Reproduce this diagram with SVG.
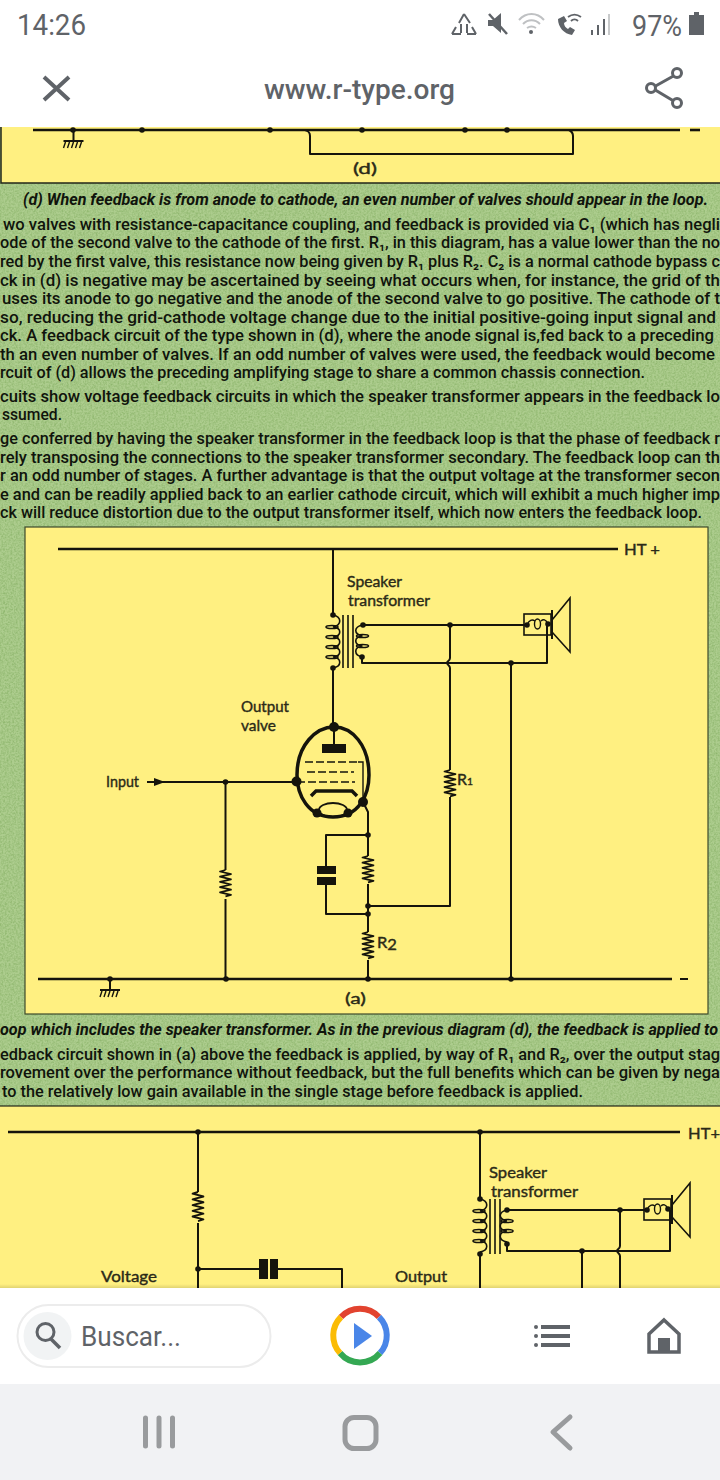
<svg xmlns="http://www.w3.org/2000/svg" width="720" height="1480" viewBox="0 0 720 1480">
<style>
.body{font-family:Roboto,"Liberation Sans",sans-serif;font-size:15px;font-weight:500;fill:#10140c}
.cap{font-style:italic;font-weight:700}
.lab{font-family:Lato,"Liberation Sans",sans-serif;font-size:15.500px;font-weight:400;fill:#2b2a18;stroke:#2b2a18;stroke-width:.4}
.ui{font-family:Roboto,"Liberation Sans",sans-serif;fill:#5f6368}
.w{fill:none;stroke:#15140c;stroke-width:2;stroke-linejoin:round}
.r{fill:none;stroke:#15140c;stroke-width:1.700;stroke-linejoin:round}
.bus{fill:none;stroke:#15140c;stroke-width:2.600}
.thin{fill:none;stroke:#15140c;stroke-width:1.400}
.coil{fill:none;stroke:#15140c;stroke-width:1.600}
.fill{fill:#15140c}
.ic{fill:none;stroke:#5f6368;stroke-width:3}
.nav{fill:none;stroke:#999b9d;stroke-width:5;stroke-linecap:round;stroke-linejoin:round}
</style>
<defs>
<filter id="grain" x="0" y="0" width="100%" height="100%" color-interpolation-filters="sRGB"><feTurbulence type="fractalNoise" baseFrequency="0.55" numOctaves="2" seed="4"/><feColorMatrix type="matrix" values="0 0 0 0 0.54  0 0 0 0 0.70  0 0 0 0 0.41  1.6 0 0 0 -0.55"/></filter>
<linearGradient id="edge" x1="0" y1="0" x2="0" y2="1"><stop offset="0" stop-color="#000" stop-opacity="0"/><stop offset="1" stop-color="#000" stop-opacity=".12"/></linearGradient>
<circle id="dot" r="2.800" class="fill"/>
<path id="res" class="r" d="M0 0l-5.500 1.500 11 2.600-11 2.600 11 2.600-11 2.600 11 2.600-11 2.600 11 2.600-11 2.600 11 2.600-5.500 1.500"/>
<g id="pri"><path class="coil" d="M0 0c9 2 9 10 0 12c9 1 9 9 0 10c9 1 9 9 0 10c9 1 9 9 0 10c9 1 9 9 0 11"/><ellipse cx="-1" cy="12" rx="6" ry="1.500" class="coil"/><ellipse cx="-1" cy="22" rx="6" ry="1.500" class="coil"/><ellipse cx="-1" cy="32" rx="6" ry="1.500" class="coil"/><ellipse cx="-1" cy="42" rx="6" ry="1.500" class="coil"/></g>
<g id="sec"><path class="coil" d="M0 0c-9 2-9 9 0 11c-9 1-9 9 0 10c-9 1-9 9 0 11"/><ellipse cx="0" cy="11" rx="6" ry="1.500" class="coil"/><ellipse cx="0" cy="21" rx="6" ry="1.500" class="coil"/></g>
<g id="gnd"><path class="w" d="M0 0v11M-10 11h20"/><path class="thin" d="M-8 12l-2 6M-4 12l-2 6M0 12l-2 6M4 12l-2 6M8 12l-2 6" stroke-width="1"/></g>
<g id="spk"><rect x="0" y="0" width="27" height="21" class="coil"/><path class="thin" d="M3 11c2-5 5-6 8-4M24 10c-2-5-5-5-7-3"/><ellipse cx="13.500" cy="10" rx="3" ry="5" class="thin"/><path class="w" d="M28-4v29"/><path class="coil" d="M28 6L46-16V38L28 18"/><circle cx="3" cy="11" r="2.800" class="fill"/><circle cx="24" cy="10" r="2.800" class="fill"/></g>
</defs>

<g id="background">
<rect width="720" height="1480" fill="#adcd8e"/>
<rect y="183" width="720" height="924" filter="url(#grain)"/>
</g>

<g id="panel-d">
<rect x="1" y="120" width="730" height="63" fill="#fff081" stroke="#22261a" stroke-width="1.500"/>
<path class="bus" d="M33 130H680"/>
<path class="w" d="M305 130c3 1 5 2 5 6V154H573V136c0-4-2-5-4-6"/>
<path class="bus" d="M690 130h10" stroke-width="2"/>
<use href="#gnd" x="73.500" y="130"/>
<use href="#dot" x="73" y="130"/><use href="#dot" x="142" y="130"/><use href="#dot" x="270" y="130"/><use href="#dot" x="362" y="130"/><use href="#dot" x="465" y="130"/><use href="#dot" x="507" y="130"/>
<text class="lab" x="353" y="174" textLength="24" lengthAdjust="spacingAndGlyphs">(d)</text>
</g>

<g id="text-upper">
<text class="body cap" transform="translate(23 205) scale(1 1.100)" textLength="685" lengthAdjust="spacingAndGlyphs">(d) When feedback is from anode to cathode, an even number of valves should appear in the loop.</text>
<text class="body" transform="translate(3 230) scale(1 1.100)" textLength="717" lengthAdjust="spacingAndGlyphs">wo valves with resistance-capacitance coupling, and feedback is provided via C₁ (which has negli</text>
<text class="body" transform="translate(0 248) scale(1 1.100)" textLength="720" lengthAdjust="spacingAndGlyphs">ode of the second valve to the cathode of the first. R₁, in this diagram, has a value lower than the no</text>
<text class="body" transform="translate(0 267) scale(1 1.100)" textLength="720" lengthAdjust="spacingAndGlyphs">red by the first valve, this resistance now being given by R₁ plus R₂. C₂ is a normal cathode bypass c</text>
<text class="body" transform="translate(0 286) scale(1 1.100)" textLength="720" lengthAdjust="spacingAndGlyphs">ck in (d) is negative may be ascertained by seeing what occurs when, for instance, the grid of th</text>
<text class="body" transform="translate(2 304) scale(1 1.100)" textLength="718" lengthAdjust="spacingAndGlyphs">uses its anode to go negative and the anode of the second valve to go positive. The cathode of t</text>
<text class="body" transform="translate(0 323) scale(1 1.100)" textLength="716" lengthAdjust="spacingAndGlyphs">so, reducing the grid-cathode voltage change due to the initial positive-going input signal and</text>
<text class="body" transform="translate(0 341) scale(1 1.100)" textLength="714" lengthAdjust="spacingAndGlyphs">ck. A feedback circuit of the type shown in (d), where the anode signal is,fed back to a preceding</text>
<text class="body" transform="translate(0 360) scale(1 1.100)" textLength="715" lengthAdjust="spacingAndGlyphs">th an even number of valves. If an odd number of valves were used, the feedback would become</text>
<text class="body" transform="translate(0 378) scale(1 1.100)" textLength="645" lengthAdjust="spacingAndGlyphs">rcuit of (d) allows the preceding amplifying stage to share a common chassis connection.</text>
<text class="body" transform="translate(0 402) scale(1 1.100)" textLength="720" lengthAdjust="spacingAndGlyphs">cuits show voltage feedback circuits in which the speaker transformer appears in the feedback lo</text>
<text class="body" transform="translate(2 420) scale(1 1.100)" textLength="60" lengthAdjust="spacingAndGlyphs">ssumed.</text>
<text class="body" transform="translate(0 444) scale(1 1.100)" textLength="720" lengthAdjust="spacingAndGlyphs">ge conferred by having the speaker transformer in the feedback loop is that the phase of feedback r</text>
<text class="body" transform="translate(0 463) scale(1 1.100)" textLength="720" lengthAdjust="spacingAndGlyphs">rely transposing the connections to the speaker transformer secondary. The feedback loop can th</text>
<text class="body" transform="translate(0 481) scale(1 1.100)" textLength="720" lengthAdjust="spacingAndGlyphs">r an odd number of stages. A further advantage is that the output voltage at the transformer secon</text>
<text class="body" transform="translate(0 500) scale(1 1.100)" textLength="720" lengthAdjust="spacingAndGlyphs">e and can be readily applied back to an earlier cathode circuit, which will exhibit a much higher imp</text>
<text class="body" transform="translate(0 518) scale(1 1.100)" textLength="702" lengthAdjust="spacingAndGlyphs">ck will reduce distortion due to the output transformer itself, which now enters the feedback loop.</text>
</g>

<g id="panel-a">
<rect x="25" y="527" width="683" height="487" fill="#fff081" stroke="#3c4a2c" stroke-width="1.200"/>
<g id="a-connectors">
<path class="bus" d="M58 549H618M38 979H672"/>
<path class="w" d="M333 549V615M333 668V727"/>
<path class="w" d="M363 625H527M450 625V658c0 3-3 3-3 5 0 2 3 2 3 5V770M450 797V906H368"/>
<path class="w" d="M362 657V663H547V624M511 663V979"/>
<path class="w" d="M147 782H297"/>
<path class="w" d="M225.500 782V870M225.500 899V979"/>
<path class="w" d="M363 802L368 812V856M368 884V932M368 960V979"/>
<path class="w" d="M368 835H326V866M326 885V914H368"/>
</g>
<g id="a-transformer"><use href="#pri" x="333" y="615"/><path class="coil" d="M343 615v53M348 615v53M353 615v53"/><use href="#sec" x="362.500" y="625"/><use href="#dot" x="333" y="615"/><use href="#dot" x="333" y="668"/><use href="#dot" x="363" y="625"/><use href="#dot" x="362" y="657"/></g>
<g id="a-speaker"><use href="#spk" x="524" y="614"/></g>
<g id="a-valve">
<path d="M334 727C352 727 369 745 369 775C369 795 359 817 333 817C308 817 297 795 297 775C297 745 316 727 334 727Z" fill="none" stroke="#15140c" stroke-width="3.500"/>
<path class="w" d="M334 727V745"/>
<rect x="322" y="744" width="24" height="9" class="fill"/>
<path class="thin" d="M305 762h53" stroke-dasharray="8 3" stroke-width="1.800"/>
<path class="thin" d="M358 762h5V800"/>
<path class="thin" d="M307 772h47" stroke-dasharray="8 3" stroke-width="1.800"/>
<path class="thin" d="M297 782h58" stroke-dasharray="8 3" stroke-width="1.800"/>
<path d="M311 796L316 791H352L357 796" fill="none" stroke="#15140c" stroke-width="3.500"/>
<ellipse cx="333" cy="810" rx="14" ry="7" fill="none" stroke="#15140c" stroke-width="1.800"/>
<circle cx="334" cy="727" r="5" class="fill"/><circle cx="296.500" cy="781.500" r="5" class="fill"/><circle cx="363" cy="802" r="5" class="fill"/><circle cx="317" cy="813" r="4.500" class="fill"/><circle cx="348" cy="813" r="4.500" class="fill"/>
</g>
<path id="a-input-arrow" class="fill" d="M154 778L165 782L154 786Z"/>
<g id="a-r1"><use href="#res" x="450" y="770"/><text class="lab" x="457" y="785" textLength="16" lengthAdjust="spacingAndGlyphs">R<tspan font-size="10">1</tspan></text></g>
<g id="a-r2"><use href="#res" x="368" y="932"/><text class="lab" x="377" y="948" textLength="20" lengthAdjust="spacingAndGlyphs">R<tspan dy="2">2</tspan></text></g>
<g id="a-r3"><use href="#res" x="368" y="856"/></g>
<g id="a-r4"><use href="#res" x="225.500" y="870"/></g>
<g id="a-c"><rect x="317" y="866" width="19" height="8" class="fill"/><rect x="317" y="877" width="19" height="8" class="fill"/></g>
<g id="a-ground"><use href="#gnd" x="110" y="979"/></g>
<g id="a-dots"><use href="#dot" x="450" y="625"/><use href="#dot" x="511" y="663"/><use href="#dot" x="225.500" y="782"/><use href="#dot" x="368" y="835"/><use href="#dot" x="368" y="906"/><use href="#dot" x="368" y="914"/><use href="#dot" x="110" y="979"/><use href="#dot" x="226" y="979"/><use href="#dot" x="368" y="979"/><use href="#dot" x="511" y="979"/></g>
<g id="a-labels">
<text class="lab" x="347" y="587" textLength="55" lengthAdjust="spacingAndGlyphs">Speaker</text>
<text class="lab" x="348" y="606" textLength="82" lengthAdjust="spacingAndGlyphs">transformer</text>
<text class="lab" x="241" y="712" textLength="48" lengthAdjust="spacingAndGlyphs">Output</text>
<text class="lab" x="241" y="731" textLength="35" lengthAdjust="spacingAndGlyphs">valve</text>
<text class="lab" x="106" y="787" textLength="33" lengthAdjust="spacingAndGlyphs">Input</text>
<text class="lab" x="624" y="555" textLength="36" lengthAdjust="spacingAndGlyphs">HT +</text>
<text class="lab" x="345" y="1004" textLength="21" lengthAdjust="spacingAndGlyphs">(a)</text>
<path class="w" d="M680 979h8"/>
</g>
</g>

<g id="text-lower">
<text class="body cap" transform="translate(0 1035) scale(1 1.100)" textLength="718" lengthAdjust="spacingAndGlyphs">oop which includes the speaker transformer. As in the previous diagram (d), the feedback is applied to</text>
<text class="body" transform="translate(0 1060) scale(1 1.100)" textLength="720" lengthAdjust="spacingAndGlyphs">edback circuit shown in (a) above the feedback is applied, by way of R₁ and R₂, over the output stag</text>
<text class="body" transform="translate(0 1078) scale(1 1.100)" textLength="720" lengthAdjust="spacingAndGlyphs">rovement over the performance without feedback, but the full benefits which can be given by nega</text>
<text class="body" transform="translate(2 1097) scale(1 1.100)" textLength="581" lengthAdjust="spacingAndGlyphs">to the relatively low gain available in the single stage before feedback is applied.</text>
</g>

<g id="panel-b">
<rect x="-2" y="1106" width="730" height="190" fill="#fff081" stroke="#22261a" stroke-width="1.200"/>
<g id="b-connectors">
<path class="bus" d="M8 1132H680"/>
<path class="w" d="M198 1132V1192M198 1223V1288M198 1269H260M278 1269H342V1288"/>
<path class="w" d="M480 1132V1199M480 1254V1288"/>
<path class="w" d="M507 1210H647M620 1210V1246c0 3-3 3-3 5 0 2 3 2 3 5V1288"/>
<path class="w" d="M507 1244V1251H670V1210M582 1251V1288"/>
</g>
<g id="b-r"><use href="#res" transform="translate(198 1192) scale(1 1.100)"/></g>
<g id="b-c"><rect x="259" y="1259" width="9" height="20" class="fill"/><rect x="270" y="1259" width="8" height="20" class="fill"/></g>
<g id="b-transformer"><use href="#pri" x="480" y="1199"/><path class="coil" d="M490 1199v55M495 1199v55M500 1199v55"/><use href="#sec" x="507" y="1210"/><use href="#dot" x="480" y="1199"/><use href="#dot" x="480" y="1254"/><use href="#dot" x="507" y="1210"/><use href="#dot" x="507" y="1244"/></g>
<g id="b-speaker"><use href="#spk" x="644" y="1199"/></g>
<g id="b-dots"><use href="#dot" x="198" y="1132"/><use href="#dot" x="480" y="1132"/><use href="#dot" x="198" y="1269"/><use href="#dot" x="620" y="1210"/><use href="#dot" x="582" y="1251"/></g>
<g id="b-labels">
<text class="lab" x="489" y="1178" textLength="58" lengthAdjust="spacingAndGlyphs">Speaker</text>
<text class="lab" x="491" y="1197" textLength="87" lengthAdjust="spacingAndGlyphs">transformer</text>
<text class="lab" x="101" y="1282" textLength="56" lengthAdjust="spacingAndGlyphs">Voltage</text>
<text class="lab" x="395" y="1282" textLength="52" lengthAdjust="spacingAndGlyphs">Output</text>
<text class="lab" x="688" y="1139" textLength="32" lengthAdjust="spacingAndGlyphs">HT+</text>
</g>
<rect y="1284" width="720" height="4" fill="url(#edge)"/>
</g>

<g id="status-bar">
<rect width="720" height="127" fill="#fff"/>
<text class="ui" x="17" y="35" font-size="30" textLength="69" lengthAdjust="spacingAndGlyphs">14:26</text>
<g id="status-icons">
<path d="M464 14l6 9M464 14l-5 9M452 34l4-7M476 34l-4-7M452 34h9M476 34h-9" fill="none" stroke="#5f6368" stroke-width="2"/>
<path d="M461 24v9M467 24v9" stroke="#5f6368" stroke-width="2"/>
<path d="M488 20h5l8-7v20l-8-7h-5z" fill="#5f6368"/><path d="M489 14L507 34" stroke="#5f6368" stroke-width="2.500"/>
<path d="M519 20c7-8 18-8 25 0M523 24c5-5 12-5 17 0M527 28c3-2 6-2 9 0" fill="none" stroke="#bfc1c3" stroke-width="2"/><circle cx="531" cy="32" r="2" fill="#5f6368"/>
<path d="M558 19c0 8 6 15 14 16l3-5-5-3-2 2c-2-1-4-3-4-6l3-2-3-5z" fill="#5f6368"/><path d="M568 17c4-3 9-3 13 0M571 21c2-2 5-2 7 0" fill="none" stroke="#5f6368" stroke-width="1.800"/>
<path d="M592 30v5M598 25v10M604 19v16" stroke="#5f6368" stroke-width="2"/><path d="M609 14v21" stroke="#c8cacb" stroke-width="2"/>
<text class="ui" x="632" y="36" font-size="30" textLength="50" lengthAdjust="spacingAndGlyphs">97%</text>
<path d="M689 15h5v-3h5v3h5v20h-15z" fill="#5f6368"/>
</g>
</g>

<g id="browser-header">
<path d="M44 77L69 100M69 77L44 100" fill="none" stroke="#5f6368" stroke-width="4"/>
<text class="ui" x="264" y="99" font-size="28" font-weight="500" textLength="191" lengthAdjust="spacingAndGlyphs">www.r-type.org</text>
<g id="share"><path class="ic" d="M677 74L652 88L677 103"/><circle cx="677" cy="73" r="4.500" fill="#fff" stroke="#5f6368" stroke-width="3"/><circle cx="651" cy="88" r="4.500" fill="#fff" stroke="#5f6368" stroke-width="3"/><circle cx="677" cy="103" r="4.500" fill="#fff" stroke="#5f6368" stroke-width="3"/></g>
</g>

<g id="bottom-bar">
<rect y="1288" width="720" height="96" fill="#fff"/>
<rect y="1384" width="720" height="96" fill="#f1f2f4"/>
<rect x="17.500" y="1305" width="253" height="62" rx="31" fill="#fff" stroke="#ececec" stroke-width="2"/>
<circle cx="47.500" cy="1336" r="24" fill="#f1f3f4"/>
<circle cx="45.500" cy="1332" r="8.500" fill="none" stroke="#5f6368" stroke-width="3"/><path d="M51 1339L60 1348" stroke="#5f6368" stroke-width="3.500"/>
<text class="ui" x="81" y="1346" font-size="28" textLength="100" lengthAdjust="spacingAndGlyphs">Buscar...</text>
<g id="play-logo" fill="none" stroke-width="6">
<path d="M341 1317A26 26 0 0 1 379 1317" stroke="#e2432f"/>
<path d="M379 1317A26 26 0 0 1 380 1353" stroke="#4a86e8"/>
<path d="M380 1353A26 26 0 0 1 340 1353" stroke="#34a853"/>
<path d="M340 1353A26 26 0 0 1 341 1317" stroke="#fbbc05"/>
<path d="M354 1323L372 1336L354 1349Z" fill="#4a86e8" stroke="none"/>
</g>
<g id="menu-icon"><path d="M541 1327h29M541 1336h29M541 1345h29" stroke="#5f6368" stroke-width="4"/><circle cx="536" cy="1327" r="2" fill="#5f6368"/><circle cx="536" cy="1336" r="2" fill="#5f6368"/><circle cx="536" cy="1345" r="2" fill="#5f6368"/></g>
<g id="home-icon"><path d="M664 1320L679 1334V1352H649V1334Z" fill="none" stroke="#5f6368" stroke-width="3.500"/><rect x="658" y="1338" width="12" height="14" fill="#5f6368"/></g>
<g id="nav-bar"><path class="nav" d="M145.500 1418v28M159 1418v28M172.500 1418v28"/><rect x="345" y="1417.500" width="31" height="31" rx="9" class="nav"/><path class="nav" d="M570 1417L553 1432L570 1448"/></g>
</g>
</svg>
